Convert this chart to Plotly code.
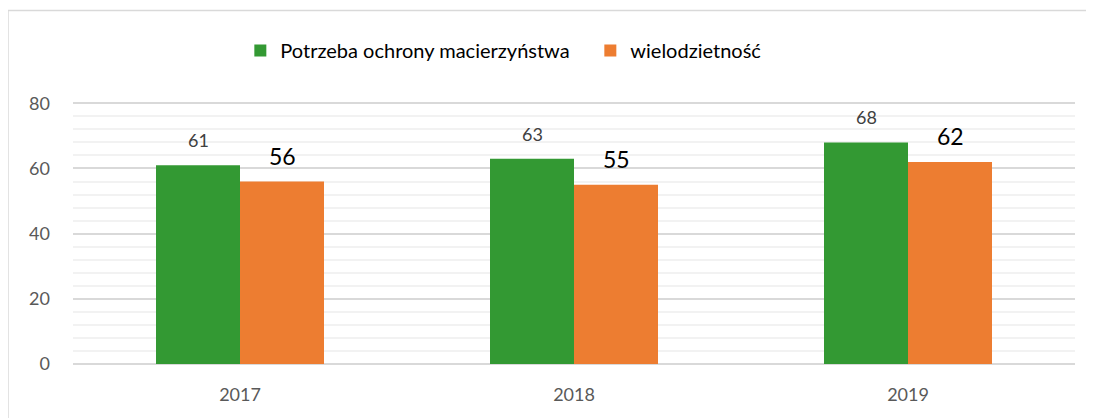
import plotly.graph_objects as go

years = ["2017", "2018", "2019"]
ochrona = [61, 63, 68]
wielodzietnosc = [56, 55, 62]

GREEN = "#339933"
ORANGE = "#ED7D31"
FONT = "Lato, Open Sans, sans-serif"

pos = list(range(len(years)))

fig = go.Figure()
fig.add_trace(go.Bar(x=pos, y=ochrona, name="Potrzeba ochrony macierzyństwa",
                     marker={"color": GREEN, "line": {"width": 0}}))
fig.add_trace(go.Bar(x=pos, y=wielodzietnosc, name="wielodzietność",
                     marker={"color": ORANGE, "line": {"width": 0}}))

# data labels above the bars
annotations = []
for p, v in zip(pos, ochrona):
    annotations.append(dict(x=p, y=v, text=str(v), xshift=-42, yshift=12, showarrow=False,
                            xref="x", yref="y", yanchor="bottom",
                            font={"size": 18, "color": "#404040", "family": FONT}))
for p, v in zip(pos, wielodzietnosc):
    annotations.append(dict(x=p, y=v, text=str(v), xshift=42, yshift=10, showarrow=False,
                            xref="x", yref="y", yanchor="bottom",
                            font={"size": 23, "color": "#000000", "family": FONT}))

# page body has an 8px margin, so the figure is 8px smaller than the window
fig.update_layout(
    width=1086, height=410,
    paper_bgcolor="white", plot_bgcolor="white",
    margin={"l": 65, "r": 19, "t": 93.7, "b": 53.5},
    barmode="group", bargap=0.497, bargroupgap=0,
    font={"family": FONT, "color": "#595959", "size": 18},
    showlegend=True,
    legend={"orientation": "h", "x": 0.167, "xanchor": "left", "y": 1.197, "yanchor": "middle",
            "font": {"size": 20, "color": "#000000"}, "itemwidth": 30, "traceorder": "normal",
            "entrywidth": 305, "entrywidthmode": "pixels"},
    annotations=annotations,
    shapes=[dict(type="path", xref="paper", yref="paper",
                 path="M -0.0649,-0.3 L -0.0649,1.349 L 1.1,1.349",
                 line={"color": "#D9D9D9", "width": 1.5})],
    xaxis=dict(range=[-0.5, len(years) - 0.5], tickvals=pos, ticktext=years,
               showline=False, showgrid=False, zeroline=False, ticks="", ticklabelstandoff=18,
               automargin=False, tickfont={"size": 18, "color": "#595959"}),
    yaxis=dict(range=[0, 80.4], tickvals=[0, 20, 40, 60, 80], gridcolor="#D9D9D9", gridwidth=1.5,
               automargin=False, zeroline=True, zerolinecolor="#D9D9D9", zerolinewidth=1.5,
               minor={"dtick": 4, "showgrid": True, "gridcolor": "#F2F2F2", "gridwidth": 1.5},
               ticks="", ticklabelstandoff=22, tickfont={"size": 18, "color": "#595959"}),
)

fig.write_html("out.html")
